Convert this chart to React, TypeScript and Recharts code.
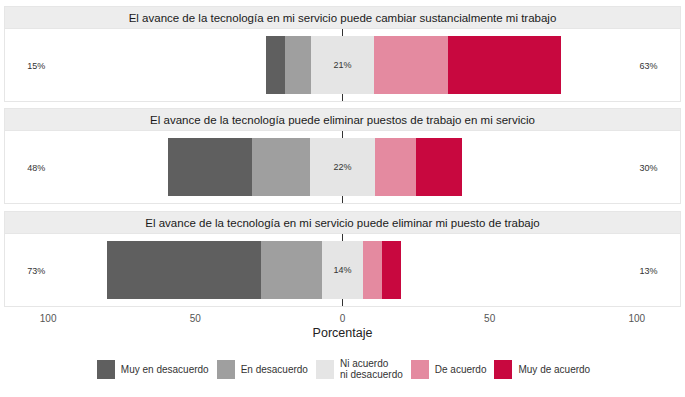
import { BarChart, Bar, XAxis, YAxis, CartesianGrid, ReferenceDot, LabelList } from 'recharts'

const statements = [
  'El avance de la tecnología en mi servicio puede cambiar sustancialmente mi trabajo',
  'El avance de la tecnología puede eliminar puestos de trabajo en mi servicio',
  'El avance de la tecnología en mi servicio puede eliminar mi puesto de trabajo',
]

// percentages per answer, one value per statement
const muyDesacuerdo = [6.3, 28.6, 52.4]
const enDesacuerdo = [8.9, 19.6, 20.5]
const niAcuerdo = [21.4, 22.2, 14.2]
const deAcuerdo = [25.2, 14.0, 6.4]
const muyAcuerdo = [38.2, 15.6, 6.5]

const legendLabels = ['Muy en desacuerdo', 'En desacuerdo', 'Ni acuerdo\nni desacuerdo', 'De acuerdo', 'Muy de acuerdo']
const colors = ['#5f5f5f', '#9f9f9f', '#e5e5e5', '#e48aa0', '#c8083f']
const axisTicks = [-100, -50, 0, 50, 100]

const FONT = '"Liberation Sans", Arial, sans-serif'
const PANEL_W = 677
const BODY_H = 73
const STRIP_H = 23
const AXIS_H = 38
const DOMAIN: [number, number] = [-115, 115]

function Panel({ i, top, showAxis }: { i: number; top: number; showAxis: boolean }) {
  const half = niAcuerdo[i] / 2
  const row = [{
    name: statements[i],
    neutralL: -half,
    desacuerdo: -enDesacuerdo[i],
    muyDes: -muyDesacuerdo[i],
    neutralR: half,
    acuerdo: deAcuerdo[i],
    muyAc: muyAcuerdo[i],
  }]
  const low = Math.round(muyDesacuerdo[i] + enDesacuerdo[i])
  const high = Math.round(deAcuerdo[i] + muyAcuerdo[i])
  const mid = Math.round(niAcuerdo[i])
  const h = BODY_H + (showAxis ? AXIS_H : 0)

  return (
    <div style={{ position: 'absolute', left: 4, top, width: PANEL_W }}>
      <div style={{
        height: STRIP_H, background: '#ededed', border: '1px solid #e6e6e6', boxSizing: 'border-box',
        display: 'flex', alignItems: 'center', justifyContent: 'center',
        fontSize: 11.5, color: '#1a1a1a', fontFamily: FONT,
      }}>
        {statements[i]}
      </div>
      <div style={{ position: 'relative', height: h }}>
        <BarChart
          width={PANEL_W}
          height={h}
          data={row}
          layout="vertical"
          stackOffset="sign"
          barCategoryGap="10%"
          margin={{ top: 0, right: 0, bottom: 0, left: 0 }}
        >
          {/* zero line, drawn as a grid line so it stays behind the bars */}
          <CartesianGrid horizontal={false} verticalValues={[0]} stroke="#333333" strokeWidth={1} />
          <XAxis
            type="number"
            domain={DOMAIN}
            ticks={axisTicks}
            hide={!showAxis}
            height={AXIS_H}
            axisLine={false}
            tickLine={false}
            tickFormatter={(v: number) => String(Math.abs(v))}
            tick={{ fontSize: 10, fill: '#555555', fontFamily: FONT }}
            label={{ value: 'Porcentaje', position: 'insideBottom', offset: 8, fontSize: 12.5, fill: '#222222', fontFamily: FONT }}
          />
          <YAxis type="category" dataKey="name" hide />
          <Bar dataKey="neutralL" stackId="a" fill={colors[2]} shapeRendering="crispEdges" isAnimationActive={false} />
          <Bar dataKey="desacuerdo" stackId="a" fill={colors[1]} shapeRendering="crispEdges" isAnimationActive={false} />
          <Bar dataKey="muyDes" stackId="a" fill={colors[0]} shapeRendering="crispEdges" isAnimationActive={false} />
          <Bar dataKey="neutralR" stackId="a" fill={colors[2]} shapeRendering="crispEdges" isAnimationActive={false}>
            <LabelList
              dataKey="neutralR"
              content={(p: any) => (
                <text x={p.x} y={p.y + p.height / 2} textAnchor="middle" dominantBaseline="central"
                  fontSize={9} fill="#333333" fontFamily={FONT}>
                  {mid}%
                </text>
              )}
            />
          </Bar>
          <Bar dataKey="acuerdo" stackId="a" fill={colors[3]} shapeRendering="crispEdges" isAnimationActive={false} />
          <Bar dataKey="muyAc" stackId="a" fill={colors[4]} shapeRendering="crispEdges" isAnimationActive={false} />
          <ReferenceDot x={-104} y={statements[i]} r={0} fill="none" stroke="none"
            label={{ value: `${low}%`, position: 'center', fontSize: 9, fill: '#333333', fontFamily: FONT }} />
          <ReferenceDot x={104} y={statements[i]} r={0} fill="none" stroke="none"
            label={{ value: `${high}%`, position: 'center', fontSize: 9, fill: '#333333', fontFamily: FONT }} />
        </BarChart>
        <div style={{
          position: 'absolute', left: 0, top: 0, width: PANEL_W, height: BODY_H,
          border: '1px solid #e6e6e6', borderTop: 'none', boxSizing: 'border-box', pointerEvents: 'none',
        }} />
      </div>
    </div>
  )
}

export default function App() {
  const tops = [6, 108, 211]
  return (
    <div style={{ position: 'absolute', left: 0, top: 0, width: 685, height: 397, background: '#ffffff', fontFamily: FONT }}>
      {tops.map((t, i) => (
        <Panel key={i} i={i} top={t} showAxis={i === 2} />
      ))}
      <div style={{
        position: 'absolute', left: 0, top: 358, width: 685,
        display: 'flex', justifyContent: 'center', alignItems: 'center', paddingLeft: 10, boxSizing: 'border-box',
      }}>
        {legendLabels.map((l, k) => (
          <div key={k} style={{ display: 'flex', alignItems: 'center', marginRight: 8 }}>
            <div style={{ width: 18, height: 19, background: colors[k], marginRight: 6 }} />
            <div style={{ fontSize: 10, color: '#333333', whiteSpace: 'pre', lineHeight: '11px' }}>{l}</div>
          </div>
        ))}
      </div>
    </div>
  )
}
